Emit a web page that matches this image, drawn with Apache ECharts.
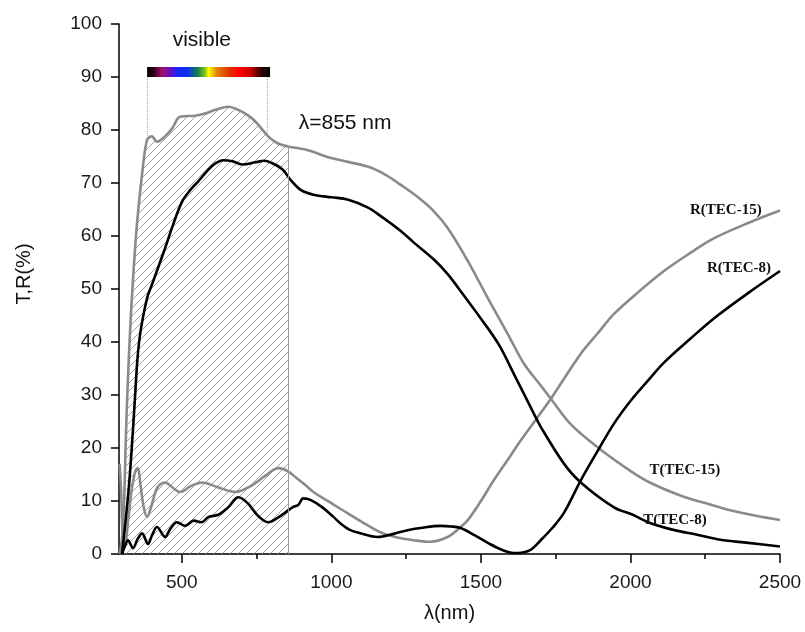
<!DOCTYPE html>
<html><head><meta charset="utf-8">
<script src="https://cdn.jsdelivr.net/npm/echarts@6/dist/echarts.min.js"></script>
<style>html,body{margin:0;padding:0;background:#fff}#c{width:805px;height:632px}</style>
</head><body><div id="c"></div>
<script>
// wavelength (nm), value (%)
const T_TEC15 = [[292,0],[300,3],[307,10],[312,20],[317,29],[327,42],[337,52],[350,62.2],[367,71.6],[384,78.2],[400,78.8],[417,77.8],[444,78.8],[468,80.3],[494,82.5],[545,82.7],[578,83.1],[612,83.8],[655,84.4],[689,83.8],[720,82.8],[746,81.6],[789,78.8],[820,77.5],[855,76.9],[913,76.3],[1007,74.6],[1121,73.1],[1180,71.6],[1231,69.7],[1290,67.3],[1342,64.7],[1389,61.5],[1456,55.3],[1523,48.3],[1590,41.5],[1643,36],[1700,31.8],[1734,29.3],[1800,24.5],[1891,20.1],[2002,15.6],[2068,13.4],[2169,11],[2250,9.6],[2337,8.2],[2420,7.2],[2500,6.4]];
const T_TEC8 = [[300,0],[322,12],[335,22],[344,30],[352,37],[362,42],[384,48.3],[400,50.8],[444,57.7],[470,62],[501,66.5],[530,68.8],[555,70.3],[585,72.3],[612,73.7],[640,74.3],[669,74.1],[702,73.5],[746,73.9],[775,74.2],[800,73.8],[836,72.6],[865,70.5],[900,68.6],[940,67.8],[1000,67.3],[1054,66.9],[1121,65.4],[1164,63.8],[1231,61.0],[1275,58.8],[1342,55.6],[1389,52.8],[1440,49],[1499,44.5],[1560,39.5],[1610,34],[1677,26.5],[1700,24],[1777,17.1],[1834,13.5],[1945,8.8],[2008,7.4],[2059,6.0],[2140,4.6],[2226,3.6],[2300,2.7],[2394,2.1],[2500,1.4]];
const R_TEC15 = [[292,17],[297,12],[303,3],[310,2],[320,6],[332,12],[344,15.5],[352,16.2],[362,13],[372,9],[384,7],[398,9],[418,12.5],[444,13.5],[470,12.5],[494,11.7],[530,12.8],[568,13.5],[620,12.6],[679,11.7],[730,12.8],[780,14.8],[823,16.2],[855,15.6],[880,14.5],[913,13],[940,11.7],[1000,9.6],[1054,7.7],[1110,5.8],[1164,4.1],[1220,3.1],[1275,2.6],[1332,2.3],[1389,3.2],[1420,4.5],[1456,6.4],[1500,10],[1543,13.9],[1590,17.8],[1633,21.4],[1683,25.3],[1734,29.3],[1834,37.8],[1890,41.6],[1945,45.3],[2030,49.6],[2112,53.4],[2200,56.8],[2280,59.6],[2400,62.6],[2500,64.8]];
const R_TEC8 = [[300,0],[310,1.5],[320,2.6],[337,1.1],[352,2.8],[367,3.9],[387,1.9],[400,3.5],[417,5.1],[444,3.2],[462,4.8],[484,6.0],[511,5.3],[540,6.3],[565,6.0],[590,7.0],[622,7.4],[655,8.8],[689,10.7],[720,9.6],[755,7.2],[789,6.0],[820,6.8],[850,8.0],[870,8.8],[890,9.3],[906,10.5],[930,10.2],[970,8.8],[1007,7.0],[1030,5.8],[1060,4.6],[1097,3.9],[1154,3.2],[1208,3.8],[1255,4.5],[1298,4.9],[1365,5.3],[1400,5.2],[1432,4.9],[1480,3.5],[1523,2.1],[1570,0.8],[1610,0.2],[1640,0.3],[1667,0.8],[1700,2.6],[1740,5],[1777,7.7],[1834,13.9],[1891,19.5],[1945,24.6],[2002,29],[2060,32.8],[2112,36.1],[2200,40.6],[2280,44.5],[2400,49.5],[2500,53.4]];
const xTicks = [500,1000,1500,2000,2500];
const xMinorTicks = [750,1250,1750,2250];
const visibleRange = [384,795];
const visibleEdges = [384,786];
const cutoff = 855;
const curveLabels = [
  {name:'R(TEC-15)', at:[2319,64.8]},
  {name:'R(TEC-8)', at:[2363,53.9]},
  {name:'T(TEC-15)', at:[2182,15.8]},
  {name:'T(TEC-8)', at:[2149,6.4]}
];
const textNotes = [
  {name:'visible', at:[567,97]},
  {name:'λ=855 nm', at:[1046,81.2]}
];

function hatchCanvas(){
  const c=document.createElement('canvas');c.width=8;c.height=8;
  const g=c.getContext('2d');g.strokeStyle='#8e8e8e';g.lineWidth=0.8;
  g.beginPath();g.moveTo(-1,9);g.lineTo(9,-1);g.moveTo(-1,1);g.lineTo(1,-1);g.moveTo(7,9);g.lineTo(9,7);g.stroke();
  return c;
}
const chart = echarts.init(document.getElementById('c'), null, {renderer:'canvas'});
const sans = "'Liberation Sans', Arial, sans-serif";
const serif = "'Liberation Serif', 'Times New Roman', serif";
const gray = '#8a8a8a';
const hatchData = T_TEC15.filter(p=>p[0]<=cutoff);
const peakAtCut = T_TEC15.find(p=>p[0]===cutoff)[1];
const leftEdgeVal = T_TEC15.find(p=>p[0]===visibleEdges[0])[1];

const barGrad = new echarts.graphic.LinearGradient(0,0,1,0,[
  {offset:0,color:'#000000'},{offset:0.05,color:'#2a0018'},{offset:0.12,color:'#a0106a'},
  {offset:0.2,color:'#6010c8'},{offset:0.25,color:'#1428ff'},{offset:0.33,color:'#1030f0'},
  {offset:0.41,color:'#108050'},{offset:0.47,color:'#80c020'},{offset:0.5,color:'#ffff00'},
  {offset:0.57,color:'#e08000'},{offset:0.67,color:'#e03000'},{offset:0.75,color:'#ff0000'},
  {offset:0.85,color:'#c00000'},{offset:0.93,color:'#300000'},{offset:1,color:'#000000'}]);

function lineSeries(name,data,color){
  return {name,type:'line',data,symbol:'none',smooth:0.35,
    lineStyle:{color,width:2.6},z:3,silent:true};
}

chart.setOption({
  animation:false,
  backgroundColor:'#fff',
  grid:{left:119,right:25,top:24,bottom:78,containLabel:false},
  xAxis:[{
    type:'value',min:290,max:2500,
    name:'λ(nm)',nameLocation:'middle',nameGap:49,
    nameTextStyle:{fontFamily:sans,fontSize:20,color:'#111'},
    axisLine:{show:true,lineStyle:{color:'#000',width:1.5}},
    axisTick:{show:true,customValues:xTicks,length:9,lineStyle:{color:'#000',width:1.5}},
    axisLabel:{customValues:xTicks,formatter:v=>String(v),fontFamily:sans,fontSize:19,color:'#1a1a1a',margin:19},
    splitLine:{show:false}
  },{
    type:'value',min:290,max:2500,position:'bottom',
    axisLine:{show:false},
    axisTick:{show:true,customValues:xMinorTicks,length:5,lineStyle:{color:'#000',width:1.5}},
    axisLabel:{show:false},splitLine:{show:false}
  }],
  yAxis:{
    type:'value',min:0,max:100,interval:10,
    name:'T,R(%)',nameLocation:'middle',nameGap:85,nameRotate:90,
    nameTextStyle:{fontFamily:sans,fontSize:20,color:'#111',padding:[0,0,0,30]},
    axisLine:{show:true,lineStyle:{color:'#000',width:1.5}},
    axisTick:{show:true,length:8,lineStyle:{color:'#000',width:1.5}},
    axisLabel:{fontFamily:sans,fontSize:19,color:'#1a1a1a',margin:17},
    splitLine:{show:false}
  },
  series:[
    {name:'hatch',type:'line',data:hatchData,symbol:'none',smooth:0.35,
     lineStyle:{width:0},areaStyle:{color:{image:hatchCanvas(),repeat:'repeat'},opacity:1},z:1,silent:true,
     markLine:{silent:true,symbol:['none','none'],label:{show:false},
       data:[
         [{coord:[cutoff,0],lineStyle:{color:'#9a9a9a',width:1,type:'solid'}},{coord:[cutoff,peakAtCut]}],
         [{coord:[visibleEdges[0],90],lineStyle:{color:'#aaaaaa',width:1,type:'dotted'}},{coord:[visibleEdges[0],leftEdgeVal]}],
         [{coord:[visibleEdges[1],90],lineStyle:{color:'#aaaaaa',width:1,type:'dotted'}},{coord:[visibleEdges[1],79]}]
       ]},
     markArea:{silent:true,data:[[{coord:[visibleRange[0],90],itemStyle:{color:barGrad}},{coord:[visibleRange[1],91.9]}]]},
     markPoint:{silent:true,symbol:'circle',symbolSize:0,
       data:textNotes.map(t=>({name:t.name,coord:t.at,label:{show:true,position:'inside',formatter:t.name,
         fontFamily:sans,fontSize:21,color:'#111'}}))}
    },
    lineSeries('T(TEC-15)',T_TEC15,gray),
    lineSeries('R(TEC-15)',R_TEC15,gray),
    lineSeries('T(TEC-8)',T_TEC8,'#000'),
    Object.assign(lineSeries('R(TEC-8)',R_TEC8,'#000'),{
      markPoint:{silent:true,symbol:'circle',symbolSize:0,
        data:curveLabels.map(t=>({name:t.name,coord:t.at,label:{show:true,position:'inside',formatter:t.name,
          fontFamily:serif,fontWeight:'bold',fontSize:15,color:'#111'}}))}
    })
  ]
});
</script>
</body></html>
